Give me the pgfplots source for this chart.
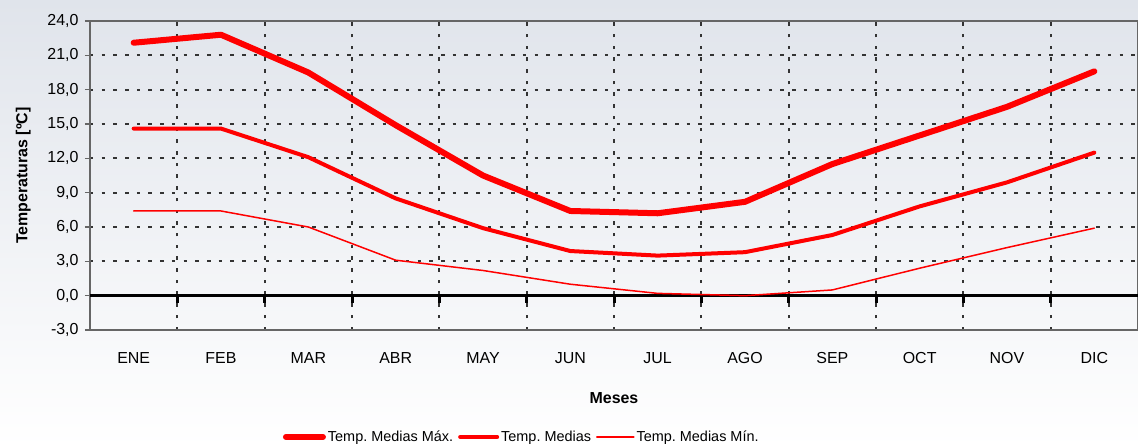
\documentclass[border=0pt]{standalone}
\usepackage{pgfplots}
\pgfplotsset{compat=1.18}
\usepackage{pgfplotstable}
\usepackage{fontspec}
\setmainfont{Liberation Sans}

\definecolor{rojo}{RGB}{255,0,0}
\definecolor{fondo}{RGB}{224,228,235}

\pgfplotstableread{
mes tmax tmed tmin
0  22.1 14.6 7.4
1  22.8 14.6 7.4
2  19.5 12.1 6.0
3  14.9  8.5 3.1
4  10.5  5.9 2.2
5   7.4  3.9 1.0
6   7.2  3.5 0.2
7   8.2  3.8 0.0
8  11.5  5.3 0.5
9  14.0  7.8 2.4
10 16.5  9.9 4.2
11 19.6 12.5 5.9
}\datos

\begin{document}
\begin{tikzpicture}
\shade[top color=fondo, bottom color=white] (-90bp,-118bp) rectangle (1048bp,330bp);
\useasboundingbox (-90bp,-118bp) rectangle (1048bp,330bp);
\begin{axis}[
  at={(0,0)}, anchor=south west,
  scale only axis, width=1048bp, height=309bp,
  font=\fontsize{16}{19}\selectfont,
  xmin=-0.5, xmax=11.5, ymin=-3, ymax=24,
  xtick={0,...,11},
  xticklabels={ENE,FEB,MAR,ABR,MAY,JUN,JUL,AGO,SEP,OCT,NOV,DIC},
  minor xtick={0.5,1.5,...,10.5},
  ytick={-3,0,...,24},
  xminorgrids, ymajorgrids,
  grid style={black!80, line width=2.2bp, dash pattern=on 3.5bp off 8.2bp},
  minor grid style={black!80, line width=2.2bp, dash pattern=on 3.5bp off 8.2bp},
  axis line style={black!60, line width=1.5bp},
  tick align=outside,
  major tick length=5bp, minor tick length=0pt,
  xtick style={draw=none},
  ytick style={draw=black!60, line width=1.5bp},
  /pgf/number format/.cd, use comma, fixed, fixed zerofill, precision=1, assume math mode=true,
  /pgfplots/.cd,
  xticklabel style={yshift=-14bp},
  yticklabel style={xshift=-3bp},
  xlabel={\textbf{Meses}},
  xlabel style={yshift=-22bp},
  ylabel={\textbf{Temperaturas [ºC]}},
  ylabel style={yshift=10bp},
  legend columns=3,
  legend style={at={(0.412,-0.346)}, anchor=center, draw=none, fill=none,
    font=\fontsize{14.5}{17}\selectfont, inner sep=0pt,
    /tikz/every even column/.append style={column sep=3bp}},
  legend image code/.code={\draw[#1] (0bp,0bp) -- (37bp,0bp);},
  every axis plot/.append style={rojo, line join=round, line cap=round},
]
\draw[black, line width=3.5bp] (axis cs:-0.5,0) -- (axis cs:11.5,0);
\pgfplotsinvokeforeach{0.5,1.5,...,10.5}{
  \draw[black, line width=3bp] (axis cs:#1,0) -- ([yshift=-7bp]axis cs:#1,0);
}
\addplot[rojo, line width=6bp] table[x=mes, y=tmax] {\datos};
\addlegendentry{Temp.~Medias Máx.}
\addplot[rojo, line width=4bp] table[x=mes, y=tmed] {\datos};
\addlegendentry{Temp.~Medias}
\addplot[rojo, line width=1.5bp] table[x=mes, y=tmin] {\datos};
\addlegendentry{Temp.~Medias Mín.}
\end{axis}
\end{tikzpicture}
\end{document}
